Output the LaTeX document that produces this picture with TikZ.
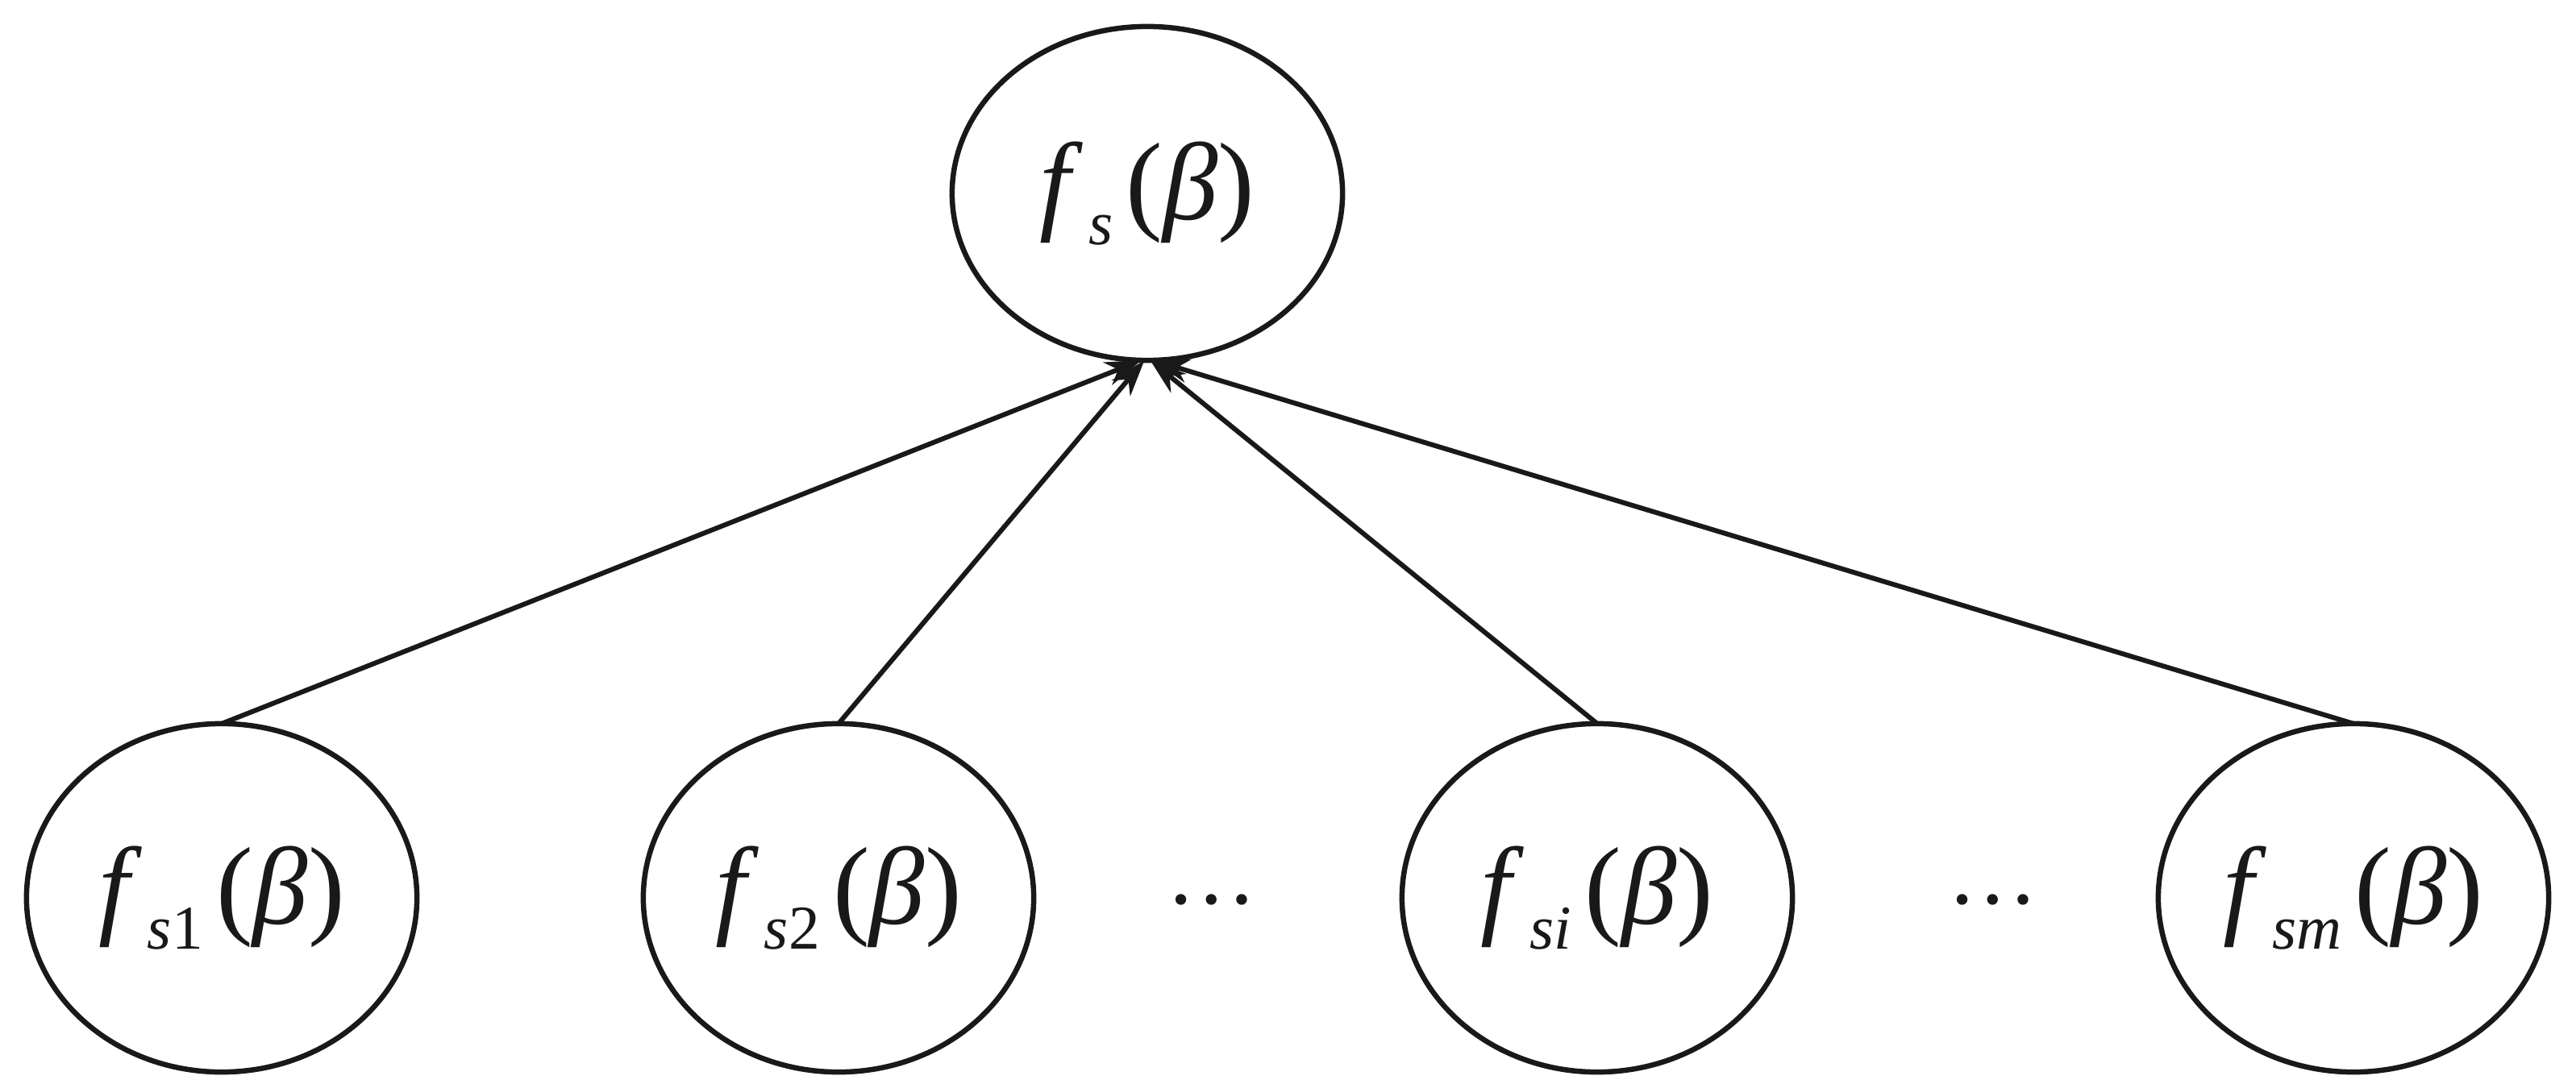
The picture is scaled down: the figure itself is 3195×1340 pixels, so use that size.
\documentclass[tikz,border=0pt]{standalone}
\usepackage{fontspec}
\setmainfont{Liberation Serif}
\usetikzlibrary{arrows.meta,shapes.geometric}
\newcommand{\flabel}[1]{\textit{f}\kern0.05em\raisebox{-0.23em}{\fontsize{22}{22}\selectfont #1}\kern0.12em(\textit{β})}
\tikzset{
  ell/.style={draw, ellipse, line width=0.065cm, inner sep=0pt, outer sep=0pt,
    font=\fontsize{39}{42}\selectfont, text=black!90},
  topell/.style={ell, minimum width=4.84cm, minimum height=4.14cm},
  botell/.style={ell, minimum width=4.84cm, minimum height=4.32cm},
  conn/.style={line width=0.06cm, -{Stealth[length=0.45cm, width=0.30cm, inset=0.14cm]}},
  dotsnode/.style={anchor=base, inner sep=0pt, font=\fontsize{32}{36}\selectfont}
}
\begin{document}
\begin{tikzpicture}[x=0.01cm, y=-0.01cm, color=black!90]
\useasboundingbox (0,0) rectangle (3195,1340);
\node[topell] (top) at (1423,240) {\flabel{\textit{s}}};
\node[botell] (b1) at (275,1114) {\flabel{\textit{s}1}};
\node[botell] (b2) at (1040,1114) {\flabel{\textit{s}2}};
\node[botell] (b3) at (1981,1114) {\flabel{\textit{si}}};
\node[botell] (b4) at (2919,1114) {\flabel{\textit{sm}}};
\node[dotsnode] (d1) at (1503,1121) {…};
\node[dotsnode] (d2) at (2472,1121) {…};
\draw[conn] (b1.north) -- (top.268);
\draw[conn] (b2.north) -- (top.269);
\draw[conn] (b3.north) -- (top.271);
\draw[conn] (b4.north) -- (top.272);
\end{tikzpicture}
\end{document}
